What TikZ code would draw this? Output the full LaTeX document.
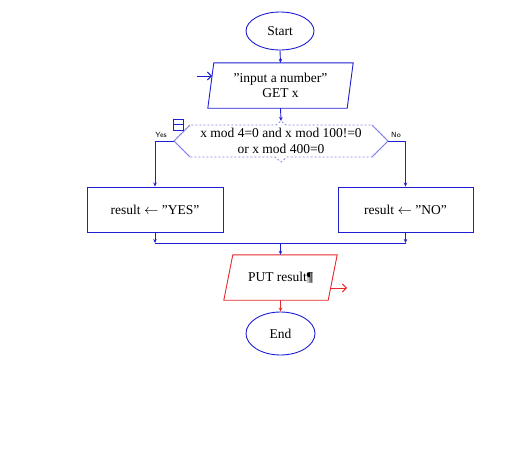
\documentclass[tikz,border=0pt]{standalone}
\usepackage{fontspec}
\setmainfont{Liberation Serif}
\usetikzlibrary{shapes.geometric,arrows.meta}
\definecolor{fblue}{RGB}{30,30,210}
\definecolor{fred}{RGB}{230,40,40}
\definecolor{fdash}{RGB}{130,130,230}
\newcommand{\dq}{\symbol{34}}
\begin{document}
\begin{tikzpicture}[x=1pt,y=-1pt,
  every node/.style={font=\fontsize{13.5}{15.5}\selectfont, inner sep=0pt, align=center},
  term/.style={ellipse, draw=fblue, line width=0.9pt},
  txt/.style={rectangle},
  line/.style={line width=0.9pt},
  arr/.style={line width=0.9pt, -{Stealth[length=4pt,width=3.5pt]}},
  openarr/.style={line width=0.9pt, -{Straight Barb[length=4pt,width=8pt]}},
  lab/.style={font=\sffamily\fontsize{7.5}{8}\selectfont}]
\useasboundingbox (0,0) rectangle (526,455);
% Start
\node[term, minimum width=68pt, minimum height=38pt] (start) at (280,31) {Start};
% Input
\node[txt, minimum width=139pt, minimum height=45pt] (input) at (280.5,85.5) {\dq input a number\dq\\GET x};
\draw[fblue, line] ([xshift=3pt]input.north west) -- ([xshift=3pt]input.north east)
  -- ([xshift=-3pt]input.south east) -- ([xshift=-3pt]input.south west) -- cycle;
\coordinate (inA) at (197,76);
\coordinate (inB) at (212,76);
\draw[fblue, openarr] (inA) -- (inB);
\draw[fblue, arr] (start.south) -- (input.north);
% Decision
\node[txt, minimum width=214pt, minimum height=32pt] (dec) at (281,141) {x mod 4=0 and x mod 100!=0\\or x mod 400=0};
\coordinate (decL) at (174,141);
\coordinate (decR) at (388,141);
\coordinate (decT) at (281,121);
\draw[fdash, line width=0.8pt, dash pattern=on 2pt off 2pt]
  (decL) -- (190,125) -- (276,125) -- (decT) -- (286,125) -- (372,125) -- (decR)
  -- (372,157) -- (287,157) -- (281,162) -- (275,157) -- (190,157) -- cycle;
\draw[fdash, line width=0.8pt] (decL) -- (190,125) (decL) -- (190,157)
  (decR) -- (372,125) (decR) -- (372,157);
\draw[fblue, arr] (input.south) -- (decT);
% collapse icon
\draw[fblue, line width=0.8pt] (173,119) rectangle (183,130) (173,124.5) -- (183,124.5);
\node[lab] (yeslab) at (161,134.5) {Yes};
\node[lab] (nolab) at (396,134.5) {No};
% boxes
\node[txt, draw=fblue, line width=0.9pt, minimum width=136pt, minimum height=45pt] (yes) at (155,209.5) {result $\leftarrow$ \dq YES\dq};
\node[txt, draw=fblue, line width=0.9pt, minimum width=135pt, minimum height=45pt] (no) at (405.5,209.5) {result $\leftarrow$ \dq NO\dq};
\draw[fblue, arr] (decL) -| (yes.north);
\draw[fblue, arr] (decR) -| (no.north);
% merge
\coordinate (mL) at (155,243);
\coordinate (mR) at (405.5,243);
\coordinate (mC) at (280.5,243);
\draw[fblue, arr] (yes.south) -- (mL);
\draw[fblue, arr] (no.south) -- (mR);
\draw[fblue, line] (mL) -- (mR);
% Put
\node[txt, minimum width=104pt, minimum height=45pt] (put) at (280.5,277.5) {PUT result{\fboxsep=0pt\colorbox{gray!45}{¶}}};
\draw[fred, line] ([xshift=4.5pt]put.north west) -- ([xshift=4.5pt]put.north east)
  -- ([xshift=-4.5pt]put.south east) -- ([xshift=-4.5pt]put.south west) -- cycle;
\draw[fblue, arr] (mC) -- (put.north);
\coordinate (outA) at (331,288);
\coordinate (outB) at (347,288);
\draw[fred, openarr] (outA) -- (outB);
% End
\node[term, minimum width=69pt, minimum height=43pt] (end) at (280.5,333.5) {End};
\draw[fred, arr] (put.south) -- (end.north);
\end{tikzpicture}
\end{document}
